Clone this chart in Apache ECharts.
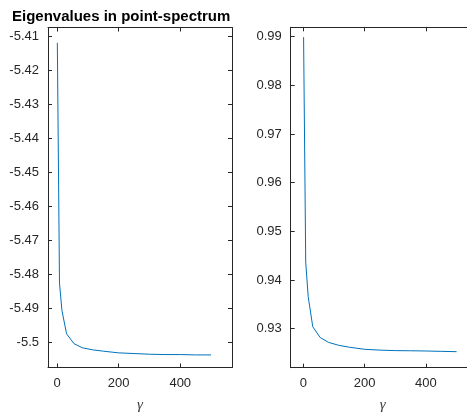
<!DOCTYPE html>
<html>
<head>
<meta charset="utf-8">
<script src="https://cdn.jsdelivr.net/npm/echarts@6/dist/echarts.min.js"></script>
<style>
html,body{margin:0;padding:0;background:#fff;}
#chart{width:467px;height:415px;}
</style>
</head>
<body>
<div id="chart"></div>
<script>
// Data
var gammaValues = [1, 8, 16, 31, 55, 82, 115, 150, 200, 250, 300, 350, 400, 450, 500];
var leftEigen = [-5.4119, -5.4825, -5.4906, -5.4974, -5.5003, -5.5015, -5.5021, -5.5025, -5.5030, -5.5032, -5.5034, -5.5035, -5.5035, -5.5036, -5.5036];
var rightEigen = [0.9899, 0.9437, 0.9366, 0.9304, 0.9282, 0.9272, 0.9266, 0.9262, 0.92577, 0.9256, 0.9255, 0.92547, 0.92542, 0.92535, 0.92528];
var xTicks = [0, 200, 400];
var leftYTicks = [-5.5, -5.49, -5.48, -5.47, -5.46, -5.45, -5.44, -5.43, -5.42, -5.41];
var rightYTicks = [0.93, 0.94, 0.95, 0.96, 0.97, 0.98, 0.99];
var titleText = 'Eigenvalues in point-spectrum';
var xName = 'γ';

var axisColor = '#262626';
var lineColor = '#0072BD';
var fontFam = '"Liberation Sans", Arial, Helvetica, sans-serif';

function pairs(xs, ys) { return xs.map(function (x, i) { return [x, ys[i]]; }); }
function fmt(v) { return String(parseFloat(Number(v).toFixed(4))); }

function xAx(grid, pos, min, max, showLabel) {
  return {
    type: 'value', gridIndex: grid, position: pos, min: min, max: max,
    splitLine: { show: false },
    axisLine: { show: true, onZero: false, lineStyle: { color: axisColor, width: 1 } },
    axisTick: { show: true, inside: true, length: 4, customValues: xTicks, lineStyle: { color: axisColor } },
    axisLabel: { show: showLabel, customValues: xTicks, margin: 9, color: axisColor, fontSize: 13, fontFamily: fontFam, formatter: fmt },
    name: showLabel ? xName : '', nameLocation: 'middle', nameGap: 30,
    nameTextStyle: { color: '#404040', fontSize: 15, fontStyle: 'italic', fontFamily: '"Liberation Serif", "DejaVu Serif", serif' }
  };
}
function yAx(grid, pos, min, max, ticks, showLabel) {
  return {
    type: 'value', gridIndex: grid, position: pos, min: min, max: max,
    splitLine: { show: false },
    axisLine: { show: true, onZero: false, lineStyle: { color: axisColor, width: 1 } },
    axisTick: { show: true, inside: true, length: 4, customValues: ticks, lineStyle: { color: axisColor } },
    axisLabel: { show: showLabel, customValues: ticks, margin: 9, color: axisColor, fontSize: 13, fontFamily: fontFam, formatter: fmt }
  };
}

var chart = echarts.init(document.getElementById('chart'), null, { renderer: 'canvas' });
chart.setOption({
  animation: false,
  backgroundColor: '#ffffff',
  title: {
    text: titleText, left: 7, top: 4,
    textStyle: { fontSize: 15, fontWeight: 'bold', color: '#000', fontFamily: fontFam }
  },
  grid: [
    { left: 48, top: 27.5, width: 184, height: 340, outerBoundsMode: 'none', containLabel: false },
    { left: 290.7, top: 27.3, width: 184, height: 340.4, outerBoundsMode: 'none', containLabel: false }
  ],
  xAxis: [
    xAx(0, 'bottom', -29.3, 568, true),
    xAx(0, 'top', -29.3, 568, false),
    xAx(1, 'bottom', -41, 559, true),
    xAx(1, 'top', -41, 559, false)
  ],
  yAxis: [
    yAx(0, 'left', -5.5073, -5.4074, leftYTicks, true),
    yAx(0, 'right', -5.5073, -5.4074, leftYTicks, false),
    yAx(1, 'left', 0.92199, 0.99193, rightYTicks, true),
    yAx(1, 'right', 0.92199, 0.99193, rightYTicks, false)
  ],
  series: [
    { type: 'line', xAxisIndex: 0, yAxisIndex: 0, data: pairs(gammaValues, leftEigen), showSymbol: false, smooth: false, lineStyle: { color: lineColor, width: 1 } },
    { type: 'line', xAxisIndex: 2, yAxisIndex: 2, data: pairs(gammaValues, rightEigen), showSymbol: false, smooth: false, lineStyle: { color: lineColor, width: 1 } }
  ]
});
</script>
</body>
</html>
